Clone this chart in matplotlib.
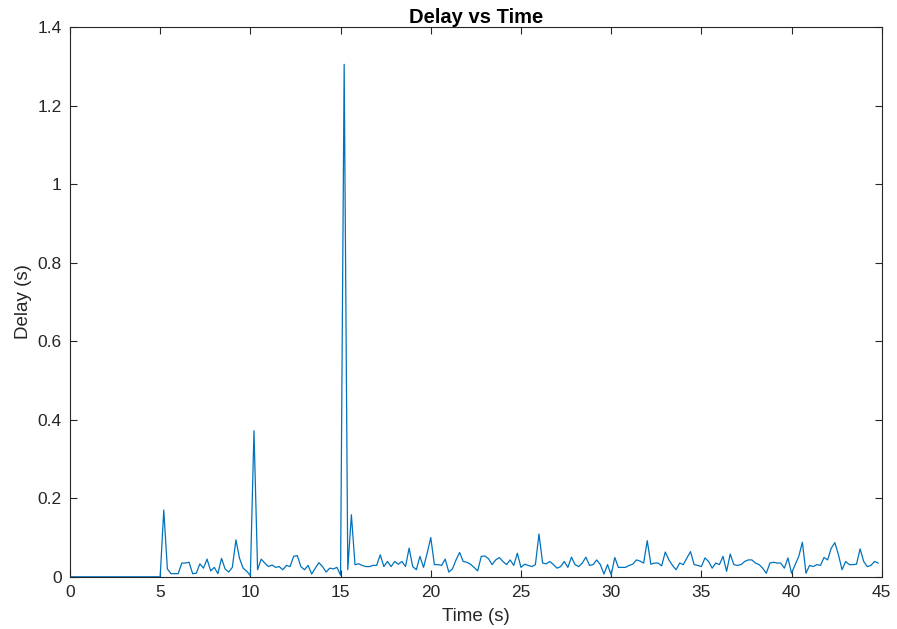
import numpy as np
import matplotlib
matplotlib.use('Agg')
import matplotlib.pyplot as plt

########################################Dados###########################################################################
# Passo de amostragem (s)
dt = 0.2

# Atraso medido (s), de t = 0 ate t = 44.8 s em passos de 0.2 s
delay_before_start = [0.0] * 26   # 0.0 .. 5.0 s
delay_5_15 = [0.17, 0.02, 0.008, 0.008, 0.008, 0.035, 0.035, 0.037, 0.008, 0.009,
              0.033, 0.022, 0.045, 0.015, 0.024, 0.008, 0.047, 0.02, 0.012, 0.024,
              0.094, 0.047, 0.022, 0.014, 0.003, 0.372, 0.018, 0.045, 0.035, 0.026,
              0.03, 0.024, 0.026, 0.018, 0.029, 0.026, 0.052, 0.054, 0.026, 0.018,
              0.029, 0.007, 0.022, 0.036, 0.026, 0.012, 0.022, 0.02, 0.024, 0.004]
delay_15_25 = [1.305, 0.018, 0.158, 0.031, 0.033, 0.029, 0.026, 0.026, 0.029, 0.029,
               0.056, 0.026, 0.039, 0.026, 0.039, 0.032, 0.039, 0.026, 0.073, 0.026,
               0.018, 0.052, 0.024, 0.06, 0.10, 0.031, 0.031, 0.029, 0.045, 0.012,
               0.02, 0.043, 0.062, 0.039, 0.037, 0.032, 0.024, 0.015, 0.052, 0.053,
               0.046, 0.031, 0.043, 0.049, 0.039, 0.031, 0.043, 0.029, 0.06, 0.024]
delay_25_35 = [0.032, 0.029, 0.026, 0.031, 0.109, 0.035, 0.033, 0.039, 0.031, 0.022,
               0.026, 0.039, 0.024, 0.05, 0.031, 0.026, 0.035, 0.05, 0.029, 0.031,
               0.043, 0.031, 0.007, 0.031, 0.005, 0.049, 0.024, 0.024, 0.024, 0.029,
               0.032, 0.043, 0.04, 0.035, 0.092, 0.032, 0.035, 0.035, 0.028, 0.063,
               0.043, 0.029, 0.018, 0.035, 0.031, 0.048, 0.064, 0.031, 0.029, 0.026]
delay_35_45 = [0.048, 0.039, 0.022, 0.035, 0.031, 0.052, 0.014, 0.058, 0.031, 0.029,
               0.031, 0.039, 0.043, 0.043, 0.035, 0.031, 0.022, 0.009, 0.035, 0.037,
               0.035, 0.035, 0.022, 0.048, 0.009, 0.031, 0.052, 0.088, 0.009, 0.029,
               0.026, 0.031, 0.029, 0.049, 0.043, 0.073, 0.087, 0.056, 0.018, 0.039,
               0.031, 0.031, 0.032, 0.071, 0.039, 0.026, 0.029, 0.039, 0.035]

delay = np.array(delay_before_start + delay_5_15 + delay_15_25 + delay_25_35 + delay_35_45)
time = np.arange(len(delay)) * dt

x_ticks = [0, 5, 10, 15, 20, 25, 30, 35, 40, 45]
y_ticks = [0, 0.2, 0.4, 0.6, 0.8, 1.0, 1.2, 1.4]
y_tick_labels = ['0', '0.2', '0.4', '0.6', '0.8', '1', '1.2', '1.4']
########################################################################################################################

###########################################Plot#########################################################################
plt.rcParams['font.family'] = ['Liberation Sans', 'DejaVu Sans']
axis_color = '#262626'

fig = plt.figure(figsize=(8.97, 6.29), dpi=100)
ax = fig.add_axes([0.078, 0.083, 0.905, 0.874])
ax.plot(time, delay, color='#0072BD', linewidth=0.9)

ax.set_xlim(0, 45)
ax.set_ylim(0, 1.4)
ax.set_xticks(x_ticks)
ax.set_yticks(y_ticks)
ax.set_yticklabels(y_tick_labels)
ax.tick_params(direction='in', top=True, right=True, length=5, width=0.8,
               colors=axis_color, labelsize=12.5, pad=6)
for spine in ax.spines.values():
    spine.set_color(axis_color)
    spine.set_linewidth(0.8)

ax.set_title('Delay vs Time', fontsize=14.5, fontweight='bold', color='black', pad=3)
ax.set_xlabel('Time (s)', fontsize=13.5, color=axis_color, labelpad=6)
ax.set_ylabel('Delay (s)', fontsize=13.5, color=axis_color, labelpad=4)

fig.savefig('out.png', dpi=100)
plt.close()
